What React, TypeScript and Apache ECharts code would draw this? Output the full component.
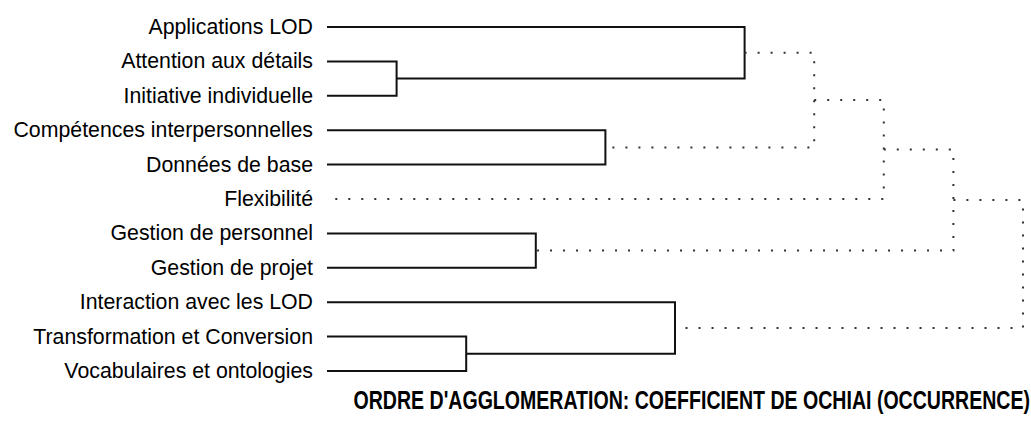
import React, { useEffect, useRef } from "react";
import * as echarts from "echarts";

const leaves: string[] = [
  "Applications LOD",
  "Attention aux détails",
  "Initiative individuelle",
  "Compétences interpersonnelles",
  "Données de base",
  "Flexibilité",
  "Gestion de personnel",
  "Gestion de projet",
  "Interaction avec les LOD",
  "Transformation et Conversion",
  "Vocabulaires et ontologies",
];

// merges: [left node id, right node id]; node ids 0..10 are leaves, new nodes 11.. in order
const mergeLeft: number[] = [1, 9, 6, 3, 8, 0, 16, 17, 18, 19];
const mergeRight: number[] = [2, 10, 7, 4, 12, 11, 14, 5, 13, 15];
// agglomeration order (height) of each merge
const mergeHeight: number[] = [1, 2, 3, 4, 5, 6, 7, 8, 9, 10];
// merges drawn dotted
const mergeDotted: boolean[] = [false, false, false, false, false, false, true, true, true, true];

const titleText = "ORDRE D'AGGLOMERATION: COEFFICIENT DE OCHIAI (OCCURRENCE)";

function buildLinks() {
  const pos: number[] = leaves.map((_, i) => i);
  const hgt: number[] = leaves.map(() => 0);
  const out: number[][] = [];
  mergeLeft.forEach((a, k) => {
    const b = mergeRight[k];
    const h = mergeHeight[k];
    out.push([hgt[a], pos[a], h, pos[b], hgt[b], mergeDotted[k] ? 1 : 0]);
    pos.push((pos[a] + pos[b]) / 2);
    hgt.push(h);
  });
  return out;
}

export default function App() {
  const ref = useRef<HTMLDivElement>(null);
  useEffect(() => {
    document.body.style.margin = "0";
    const chart = echarts.init(ref.current!, undefined, { renderer: "svg" });
    const links = buildLinks();
    chart.setOption({
      animation: false,
      backgroundColor: "#ffffff",
      graphic: [
        {
          type: "text",
          x: 1030,
          y: 401,
          scaleX: 0.782,
          style: {
            text: titleText,
            textAlign: "right",
            textVerticalAlign: "middle",
            fontFamily: "'Liberation Sans', Arial, sans-serif",
            fontWeight: "bold",
            fontSize: 25,
            fill: "#000",
          },
        },
      ],
      grid: { left: 327, right: 8, top: 27, bottom: 59 },
      xAxis: { type: "value", min: 0, max: 10, show: false },
      yAxis: {
        type: "value",
        min: 0,
        max: 10,
        interval: 1,
        inverse: true,
        axisLine: { show: false },
        axisTick: { show: false },
        splitLine: { show: false },
        axisLabel: {
          margin: 14,
          fontFamily: "'Liberation Sans', Arial, sans-serif",
          fontSize: 21.3,
          color: "#000",
          formatter: (v: number) => leaves[Math.round(v)] ?? "",
        },
      },
      series: [
        {
          type: "custom",
          data: links,
          renderItem: (_params: any, api: any) => {
            const h1 = api.value(0);
            const y1 = api.value(1);
            const h = api.value(2);
            const y2 = api.value(3);
            const h2 = api.value(4);
            const dotted = api.value(5) === 1;
            const p = [
              api.coord([h1, y1]),
              api.coord([h, y1]),
              api.coord([h, y2]),
              api.coord([h2, y2]),
            ];
            return {
              type: "polyline",
              shape: { points: p },
              style: dotted
                ? { stroke: "#333", lineWidth: 2, lineDash: [2, 11], fill: "none" }
                : { stroke: "#111", lineWidth: 2, fill: "none" },
            };
          },
        },
      ],
    });
    return () => chart.dispose();
  }, []);
  return <div ref={ref} style={{ width: 1031, height: 430 }} />;
}
